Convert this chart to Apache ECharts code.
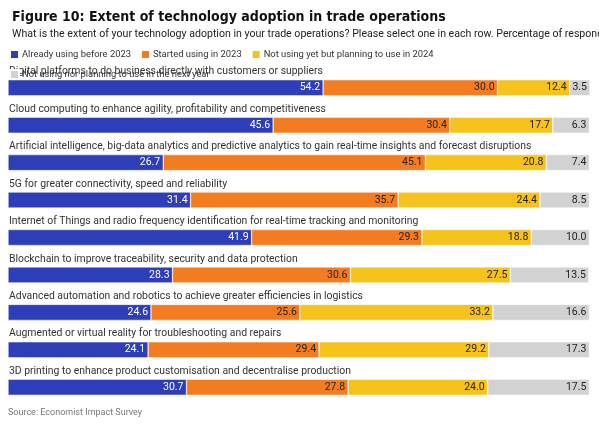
<!DOCTYPE html>
<html><head><meta charset="utf-8">
<script src="https://cdn.jsdelivr.net/npm/echarts@6/dist/echarts.min.js"></script>
<style>html,body{margin:0;background:#fff}#main{width:599px;height:428px}</style>
</head><body><div id="main"></div>
<script>
var categories = [
  'Digital platforms to do business directly with customers or suppliers',
  'Cloud computing to enhance agility, profitability and competitiveness',
  'Artificial intelligence, big-data analytics and predictive analytics to gain real-time insights and forecast disruptions',
  '5G for greater connectivity, speed and reliability',
  'Internet of Things and radio frequency identification for real-time tracking and monitoring',
  'Blockchain to improve traceability, security and data protection',
  'Advanced automation and robotics to achieve greater efficiencies in logistics',
  'Augmented or virtual reality for troubleshooting and repairs',
  '3D printing to enhance product customisation and decentralise production'
];
var seriesNames = ['Already using before 2023', 'Started using in 2023', 'Not using yet but planning to use in 2024', 'Not using nor planning to use in the next year'];
var already = [54.2, 45.6, 26.7, 31.4, 41.9, 28.3, 24.6, 24.1, 30.7];
var started = [30.0, 30.4, 45.1, 35.7, 29.3, 30.6, 25.6, 29.4, 27.8];
var planning = [12.4, 17.7, 20.8, 24.4, 18.8, 27.5, 33.2, 29.2, 24.0];
var notUsing = [3.5, 6.3, 7.4, 8.5, 10.0, 13.5, 16.6, 17.3, 17.5];

var colors = ['#2e3db8', '#f47c20', '#f6c21c', '#d2d2d2'];
var textColors = ['#fff', '#222', '#222', '#222'];
var font = '"Liberation Sans Narrow", "Roboto", sans-serif';

var chart = echarts.init(document.getElementById('main'));
var data = [already, started, planning, notUsing];
chart.setOption({
  animation: false,
  textStyle: { fontFamily: font },
  title: {
    text: 'Figure 10: Extent of technology adoption in trade operations',
    subtext: 'What is the extent of your technology adoption in your trade operations? Please select one in each row. Percentage of respondents.',
    left: 7, top: 5, itemGap: 5,
    textStyle: { fontFamily: '"DejaVu Sans Condensed", "Roboto", sans-serif', fontSize: 14, fontWeight: 'bold', color: '#111' },
    subtextStyle: { fontFamily: font, fontSize: 10.6, color: '#222' }
  },
  legend: {
    left: 4, top: 44, itemWidth: 9, itemHeight: 9, itemGap: 9, icon: 'rect',
    textStyle: { fontFamily: font, fontSize: 9.4, color: '#333', padding: [0, 0, 0, -2] },
    data: seriesNames
  },
  graphic: [{ type: 'text', left: 8, top: 408, style: { text: 'Source: Economist Impact Survey', fontFamily: font, fontSize: 9, fill: '#777' } }],
  grid: { left: 8, right: 9, top: 69, bottom: 22 },
  xAxis: { type: 'value', min: 0, max: 100.1, show: false },
  yAxis: {
    type: 'category', data: categories, inverse: true,
    axisLine: { show: false }, axisTick: { show: false },
    axisLabel: { inside: true, align: 'left', verticalAlign: 'bottom', padding: [0, 0, 11, 1], fontSize: 10.4, color: '#333', fontFamily: font, margin: 0 }
  },
  series: data.map(function (vals, i) {
    return {
      name: seriesNames[i], type: 'bar', stack: 'all', barWidth: 16, data: vals,
      itemStyle: { color: colors[i], borderColor: '#fff', borderWidth: 0.5 },
      label: { show: true, position: 'insideRight', distance: 3, color: textColors[i], fontSize: 10.5, fontFamily: font, formatter: function (p) { return p.value.toFixed(1); } }
    };
  })
});
</script></body></html>
